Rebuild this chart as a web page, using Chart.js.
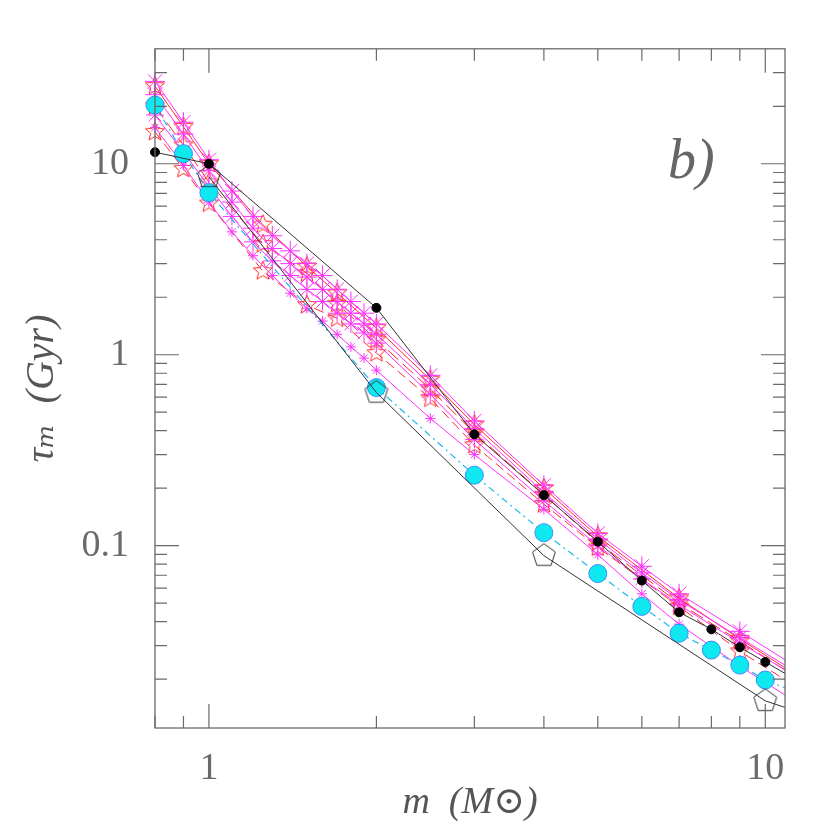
<!DOCTYPE html>
<html><head><meta charset="utf-8">
<script src="https://cdn.jsdelivr.net/npm/chart.js@4"></script>
<style>html,body{margin:0;padding:0;background:#fff}</style>
</head><body>
<canvas id="c" width="830" height="830"></canvas>
<script>
// ---- data (mass in solar masses, lifetime in Gyr) ----
const massBlack = [0.8, 1, 2, 3, 4, 5, 6, 7, 8, 9, 10, 12];
const tauBlack  = [11.5, 10, 1.76, 0.383, 0.184, 0.105, 0.0657, 0.0448, 0.0365, 0.0294, 0.0246, 0.0181];

const massCyan = [0.8, 0.9, 1, 2, 3, 4, 5, 6, 7, 8, 9, 10, 12];
const tauCyan  = [20.3, 11.3, 7.06, 0.673, 0.234, 0.117, 0.0715, 0.0481, 0.0348, 0.0284, 0.0237, 0.0198, 0.0160];

const massPenta = [1, 2, 4, 10, 12];
const tauPenta  = [8.55, 0.634, 0.0887, 0.0154, 0.0129];

const massMag = [0.8, 0.9, 1.0, 1.1, 1.2, 1.3, 1.4, 1.5, 1.6, 1.7, 1.8, 1.9, 2.0, 2.5, 3, 4, 5, 6, 7, 9, 12];
const tauMag1 = [27, 16.5, 10.5, 7.2, 5.3, 4.2, 3.5, 3.0, 2.6, 2.2, 1.9, 1.65, 1.45, 0.78, 0.45, 0.207, 0.116, 0.078, 0.056, 0.0356, 0.021];
const tauMag2 = [23, 14.3, 9.2, 6.3, 4.6, 3.6, 3.0, 2.55, 2.2, 1.9, 1.65, 1.45, 1.28, 0.70, 0.41, 0.19, 0.108, 0.072, 0.052, 0.033, 0.0198];
const tauMag3 = [18, 11.5, 7.6, 5.3, 3.9, 3.1, 2.6, 2.2, 1.9, 1.65, 1.45, 1.3, 1.15, 0.62, 0.36, 0.172, 0.100, 0.067, 0.049, 0.031, 0.0188];
const tauMag4 = [15.5, 9.8, 6.3, 4.4, 3.3, 2.6, 2.1, 1.75, 1.5, 1.28, 1.1, 0.96, 0.83, 0.464, 0.30, 0.155, 0.0897, 0.056, 0.0388, 0.0234, 0.0137];

const massRed = [0.8, 0.9, 1.0, 1.25, 1.5, 1.7, 2.0, 2.5, 3, 4, 5, 7, 9, 12];
const tauRed1 = [25.5, 15.6, 10, 4.8, 2.9, 2.1, 1.38, 0.74, 0.43, 0.20, 0.112, 0.053, 0.0325, 0.019];
const tauRed2 = [20, 12.5, 8, 3.8, 2.67, 1.85, 1.2, 0.66, 0.39, 0.185, 0.104, 0.050, 0.0316, 0.0185];
const tauRed3 = [14.7, 9.4, 6.2, 2.74, 1.82, 1.55, 1.02, 0.59, 0.336, 0.165, 0.098, 0.048, 0.028, 0.0165];

const xTickValues = [1, 10];
const xTickLabels = ['1', '10'];
const yTickValues = [0.1, 1, 10];
const yTickLabels = ['0.1', '1', '10'];
const xMinorTicks = [0.8, 0.9, 2, 3, 4, 5, 6, 7, 8, 9];
const yMinorTicks = [0.02,0.03,0.04,0.05,0.06,0.07,0.08,0.09,0.2,0.3,0.4,0.5,0.6,0.7,0.8,0.9,2,3,4,5,6,7,8,9,20,30];

// ---- custom marker shapes ----
function makeStar(color, rOut, rIn) {
  const s = Math.ceil(rOut * 2 + 4), c = document.createElement('canvas');
  c.width = s; c.height = s;
  const g = c.getContext('2d');
  g.strokeStyle = color; g.lineWidth = 1;
  g.beginPath();
  for (let i = 0; i < 10; i++) {
    const r = i % 2 ? rIn : rOut;
    const a = -Math.PI / 2 + i * Math.PI / 5;
    const px = s / 2 + r * Math.cos(a), py = s / 2 + r * Math.sin(a);
    i ? g.lineTo(px, py) : g.moveTo(px, py);
  }
  g.closePath(); g.stroke();
  return c;
}
function makePentagon(color, r) {
  const s = Math.ceil(r * 2 + 4), c = document.createElement('canvas');
  c.width = s; c.height = s;
  const g = c.getContext('2d');
  g.strokeStyle = color; g.lineWidth = 1;
  g.beginPath();
  for (let i = 0; i < 5; i++) {
    const a = -Math.PI / 2 + i * 2 * Math.PI / 5;
    const px = s / 2 + r * Math.cos(a), py = s / 2 + r * Math.sin(a);
    i ? g.lineTo(px, py) : g.moveTo(px, py);
  }
  g.closePath(); g.stroke();
  return c;
}
const redStar = makeStar('#ff2a2a', 10, 4.5);
const pentagon = makePentagon('#333', 12);

const pts = (xs, ys) => xs.map((v, i) => ({x: v, y: ys[i]}));
const lastHidden = r => ctx => ctx.dataIndex === ctx.dataset.data.length - 1 ? 0 : r;
const CLIP = {left: 14, top: 0, right: 0, bottom: 0};

function magSet(ys, r, dash) {
  return {data: pts(massMag, ys), borderColor: '#ff30ff', borderWidth: 1, borderDash: dash || [],
    pointStyle: 'star', pointRadius: lastHidden(r), pointBorderColor: '#ff30ff', pointBorderWidth: 1,
    pointBackgroundColor: '#ff30ff', showLine: true, clip: CLIP, order: 5};
}
function redSet(ys, dash) {
  return {data: pts(massRed, ys), borderColor: '#ff2a2a', borderWidth: 1, borderDash: dash || [],
    pointStyle: redStar, pointRadius: lastHidden(8), showLine: true, clip: CLIP, order: 6};
}

const datasets = [
  {data: pts(massBlack, tauBlack), borderColor: '#333', borderWidth: 1, pointStyle: 'circle',
   pointRadius: lastHidden(4.5), pointBackgroundColor: '#000', pointBorderColor: '#000', clip: CLIP, order: 1},
  {data: pts(massCyan, tauCyan), borderColor: '#20b8f0', borderWidth: 1.2, borderDash: [7, 4, 2, 4], pointStyle: 'circle',
   pointRadius: lastHidden(9), pointBackgroundColor: '#10e8f0', pointBorderColor: '#3a8cff', pointBorderWidth: 1, clip: CLIP, order: 3},
  {data: pts(massPenta, tauPenta), borderColor: '#333', borderWidth: 1, pointStyle: pentagon,
   pointRadius: lastHidden(10), clip: CLIP, order: 2},
  magSet(tauMag1, 10), magSet(tauMag2, 10), magSet(tauMag3, 9), magSet(tauMag4, 5),
  redSet(tauRed1), redSet(tauRed2, [14, 6]), redSet(tauRed3, [10, 5])
];

const serif = '"Liberation Serif", "DejaVu Serif", serif';

const framePlugin = {
  id: 'frame',
  afterDraw(chart) {
    const {ctx, chartArea: a, scales: {x, y}} = chart;
    ctx.save();
    ctx.strokeStyle = '#6a6a6a'; ctx.lineWidth = 1.3;
    ctx.strokeRect(a.left, a.top, a.right - a.left, a.bottom - a.top);
    ctx.lineWidth = 1.2;
    const vt = (v, len) => { const p = x.getPixelForValue(v); if (p < a.left - 0.5 || p > a.right + 0.5) return;
      ctx.beginPath(); ctx.moveTo(p, a.bottom); ctx.lineTo(p, a.bottom - len);
      ctx.moveTo(p, a.top); ctx.lineTo(p, a.top + len); ctx.stroke(); };
    const ht = (v, len) => { const p = y.getPixelForValue(v); if (p < a.top - 0.5 || p > a.bottom + 0.5) return;
      ctx.beginPath(); ctx.moveTo(a.left, p); ctx.lineTo(a.left + len, p);
      ctx.moveTo(a.right, p); ctx.lineTo(a.right - len, p); ctx.stroke(); };
    xMinorTicks.forEach(v => vt(v, 12)); xTickValues.forEach(v => vt(v, 24));
    yMinorTicks.forEach(v => ht(v, 12)); yTickValues.forEach(v => ht(v, 24));
    ctx.fillStyle = '#666';
    ctx.font = 'italic 56px ' + serif;
    ctx.textBaseline = 'alphabetic'; ctx.textAlign = 'left';
    ctx.fillText('b)', 668, 178);
    ctx.restore();
  }
};

new Chart(document.getElementById('c'), {
  type: 'line',
  data: {datasets},
  plugins: [framePlugin],
  options: {
    responsive: false, animation: false, devicePixelRatio: 1,
    layout: {padding: {left: 0, right: 45, top: 45, bottom: 0}},
    plugins: {legend: {display: false}, tooltip: {enabled: false}},
    elements: {line: {tension: 0}},
    scales: {
      x: {
        type: 'logarithmic', min: 0.8, max: 10.85, position: 'bottom',
        grid: {display: false, drawTicks: false}, border: {display: false},
        afterBuildTicks: s => { s.ticks = xTickValues.map(v => ({value: v})); },
        afterFit: s => { s.height = 102; },
        ticks: {autoSkip: false, maxRotation: 0, padding: 18, color: '#6a6a6a',
          font: {family: serif, size: 38},
          callback: v => { const i = xTickValues.indexOf(v); return i >= 0 ? xTickLabels[i] : ''; }},
        title: {display: true, text: 'm  (M⊙)', color: '#555',
          font: {family: serif, size: 38, style: 'italic', lineHeight: 1.2}, padding: {top: 0, bottom: 4}}
      },
      y: {
        type: 'logarithmic', min: 0.0111, max: 40, position: 'left',
        grid: {display: false, drawTicks: false}, border: {display: false},
        afterBuildTicks: s => { s.ticks = yTickValues.map(v => ({value: v})); },
        afterFit: s => { s.width = 155; },
        ticks: {autoSkip: false, padding: 26, color: '#6a6a6a',
          font: {family: serif, size: 38},
          callback: v => { const i = yTickValues.indexOf(v); return i >= 0 ? yTickLabels[i] : ''; }},
        title: {display: true, text: 'τₘ  (Gyr)', color: '#555',
          font: {family: serif, size: 40, style: 'italic', lineHeight: 1.2}, padding: {top: 18, bottom: 0}}
      }
    }
  }
});
</script>
</body></html>
